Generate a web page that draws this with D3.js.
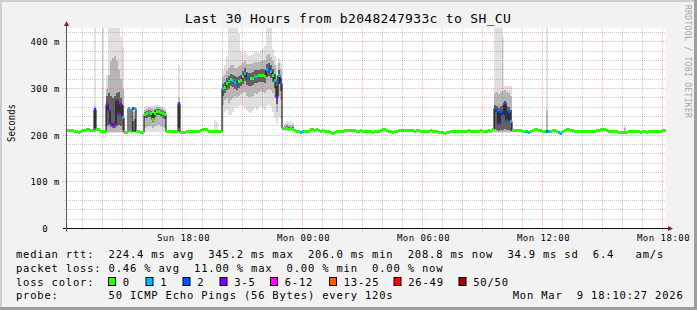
<!DOCTYPE html>
<html>
<head>
<meta charset="utf-8">
<script src="https://cdn.jsdelivr.net/npm/d3@7"></script>
<style>
html, body { margin: 0; padding: 0; background: #f2f2f2; }
svg { display: block; }
text { font-family: "DejaVu Sans Mono", monospace; fill: #000; }
</style>
</head>
<body>
<script>
const w = 697;
const h = 310;

// * DATA
const title = "Last 30 Hours from b2048247933c to SH_CU";
const yTitle = "Seconds";
const watermark = "RRDTOOL / TOBI OETIKER";
const start = new Date(2026, 2, 8, 12, 10, 27);
const end = new Date(2026, 2, 9, 18, 10, 27);
const stepMin = 6; // one value every 6 minutes

// median rtt in ms, one per step
const median = [
	210, 210, 210, 211, 209, 207, 206, 208, 210, 211, 212, 212, 211, 210,
	255,
	212, 212, 208, 207, 207,
	265, 252, 226, 222, 224, 275, 247, 265, 239,
	206, 206, 257, 207, 257, 257, 207, 207, 206, 205,
	244, 246, 248, 247, 234, 247, 250, 250, 249, 246, 244,
	208, 208, 207, 208, 209, 208,
	268,
	205, 205, 206, 207, 208, 209, 209, 208, 209, 209, 210, 212, 212, 212, 208, 207, 207, 207, 207, 208, 208,
	300, 302, 310, 315, 320, 318, 314, 312, 316, 318, 326, 332, 322, 321, 321,
	322, 327, 327, 328, 328, 328, 326, 340, 343, 337, 328, 318, 282, 328, 310,
	214, 214, 214, 213, 214, 212, 210, 209, 208, 206, 207,
	207, 207, 209, 212, 212, 211, 212, 210, 209, 210,
	209, 209, 207, 205, 203, 206, 207, 207, 207, 208,
	210, 211, 210, 210, 211, 210, 209, 209, 210, 209,
	209, 208, 207, 207, 206, 207, 207, 209, 211, 212,
	212, 211, 209, 207, 206, 207, 208, 210, 211, 210,
	211, 210, 211, 210, 210, 209, 210, 210, 208, 209,
	208, 209, 209, 210, 209, 208, 207, 206, 205, 205,
	204, 205, 206, 207, 208, 209, 208, 209, 209, 208,
	209, 209, 210, 209, 209, 208, 209, 209, 210, 209,
	208, 209, 210, 209, 212,
	258, 250, 225, 251, 243, 270, 232, 250, 230,
	210, 211, 210, 211, 210, 208, 208, 207, 205, 207,
	210, 212, 212, 211, 210, 209, 208, 208, 208, 209,
	210, 210, 208, 205, 204, 208, 211, 212, 212, 211,
	210, 209, 208, 207, 207, 207, 208, 207, 207, 207,
	208, 209, 210, 211, 212, 212, 212, 211, 209, 208,
	207, 207, 208, 206, 205, 205, 206, 206, 207, 207,
	207, 207, 207, 207, 206, 207, 207, 206, 207, 208,
	208, 208, 209, 208, 209, 210, 210,
];

// steps with lost pings (out of 50); all other steps lost none
const lossAt = [
	14, 20, 21, 22, 23, 24, 25, 26, 27, 28, 31, 33, 34, 41, 56,
	78, 81, 83, 84, 85, 89, 90, 91, 94, 95, 100, 101, 102, 104, 105, 106, 107,
	117, 118, 214, 215, 216, 217, 218, 219, 220, 221, 222,
	230, 231, 240, 241, 246, 247,
];
const lossPings = [
	4, 4, 4, 4, 4, 4, 4, 4, 4, 1, 1, 2, 1, 1, 2,
	1, 1, 1, 1, 2, 1, 2, 2, 1, 1, 1, 2, 1, 1, 4, 1, 2,
	1, 1, 2, 2, 4, 2, 2, 2, 2, 2, 1,
	1, 1, 2, 1, 1, 1,
];

// smoke: spread of the 50 pings at the steps where it is visible
const smokeAt = [
	14, 18, 20, 21, 22, 23, 24, 25, 26, 27, 28, 33, 34,
	39, 40, 41, 42, 43, 44, 45, 46, 47, 48, 49, 56, 74, 75,
	78, 79, 80, 81, 82, 83, 84, 85, 86, 87, 88, 89, 90, 91, 92,
	93, 94, 95, 96, 97, 98, 99, 100, 101, 102, 103, 104, 105, 106, 107,
	109, 110, 111, 112, 113,
	214, 215, 216, 217, 218, 219, 220, 221, 222, 240, 279,
];
const smokeMin = [
	205, 206, 205, 205, 205, 205, 205, 205, 205, 205, 205, 206, 206,
	206, 206, 206, 206, 206, 206, 206, 206, 206, 206, 206, 205, 207, 207,
	208, 250, 255, 243, 243, 250, 260, 258, 262, 265, 262, 258, 255, 250, 248,
	252, 258, 255, 260, 262, 258, 255, 262, 265, 260, 250, 238, 225, 240, 235,
	210, 210, 210, 210, 210,
	205, 205, 205, 205, 205, 205, 205, 205, 205, 207, 207,
];
const smokeP10 = [
	207, 207, 208, 208, 207, 207, 207, 208, 208, 208, 207, 206, 206,
	215, 218, 220, 220, 215, 220, 222, 222, 220, 218, 215, 207, 207, 207,
	265, 275, 280, 270, 275, 280, 285, 282, 285, 288, 290, 292, 285, 283, 282,
	285, 290, 288, 292, 294, 292, 290, 298, 300, 296, 290, 280, 250, 285, 275,
	211, 211, 211, 211, 211,
	207, 207, 207, 207, 207, 207, 207, 207, 207, 207, 207,
];
const smokeP25 = [
	215, 207, 220, 222, 218, 215, 215, 220, 222, 220, 212, 207, 207,
	236, 238, 240, 239, 228, 240, 243, 243, 242, 238, 234, 215, 207, 207,
	285, 290, 298, 300, 305, 304, 300, 298, 302, 305, 310, 316, 308, 306, 306,
	308, 312, 312, 314, 314, 314, 312, 324, 328, 322, 314, 302, 268, 310, 295,
	213, 213, 213, 213, 212,
	214, 212, 210, 212, 212, 214, 212, 212, 210, 208, 208,
];
const smokeP75 = [
	255, 208, 285, 290, 285, 280, 285, 290, 292, 280, 265, 230, 235,
	250, 252, 254, 253, 248, 254, 256, 256, 255, 252, 250, 268, 208, 208,
	310, 315, 322, 328, 332, 330, 326, 325, 328, 330, 338, 344, 335, 334, 334,
	335, 340, 340, 340, 341, 341, 340, 352, 356, 350, 342, 332, 305, 340, 322,
	218, 219, 218, 218, 217,
	265, 262, 258, 262, 265, 268, 262, 260, 255, 210, 210,
];
const smokeP90 = [
	262, 212, 300, 330, 360, 365, 370, 360, 340, 320, 300, 250, 252,
	255, 257, 259, 258, 256, 259, 260, 260, 259, 257, 255, 280, 212, 212,
	325, 330, 338, 345, 350, 350, 345, 345, 348, 350, 355, 360, 352, 352, 352,
	354, 358, 358, 358, 360, 362, 362, 372, 375, 368, 360, 350, 330, 355, 340,
	223, 224, 223, 222, 221,
	290, 292, 288, 292, 295, 296, 292, 290, 285, 255, 215,
];
const smokeMax = [
	430, 430, 330, 430, 430, 430, 430, 430, 430, 410, 390, 257, 257,
	260, 262, 263, 262, 262, 264, 265, 264, 263, 261, 259, 350, 232, 228,
	340, 350, 370, 430, 430, 430, 430, 430, 420, 380, 375, 380, 372, 370, 372,
	375, 380, 378, 378, 382, 385, 392, 430, 430, 430, 385, 370, 350, 365, 355,
	229, 230, 229, 228, 226,
	430, 430, 430, 430, 410, 306, 305, 305, 305, 430, 219,
];

const yTicks = [0, 100, 200, 300, 400];
const yTickLabels = ["0  ", "100 m", "200 m", "300 m", "400 m"];

const lossLabels = ["0", "1", "2", "3-5", "6-12", "13-25", "26-49", "50/50"];
const lossColors = ["#26ff00", "#00b8ff", "#0059ff", "#7e00ff", "#ff00ff", "#ff5e00", "#ff0000", "#a10000"];
const lossBreaks = [1, 2, 3, 6, 13, 26, 50];

const legendMedian = "median rtt:  224.4 ms avg  345.2 ms max  206.0 ms min  208.8 ms now  34.9 ms sd  6.4   am/s";
const legendLoss = "packet loss: 0.46 % avg  11.00 % max  0.00 % min  0.00 % now";
const legendColorTitle = "loss color:";
const legendProbe = "probe:       50 ICMP Echo Pings (56 Bytes) every 120s";
const stamp = "Mon Mar  9 18:10:27 2026";

// * LAYOUT
const canvasTop = 28;
const canvasBottom = 228.5;
const axisX = 66.5;
const lossBoxX = [108, 145.5, 182.5, 219.5, 270, 329, 393.5, 458.5];

// * SCALES
const xScale = d3.scaleTime().domain([start, end]).range([66, 666]);
const yScale = d3.scaleLinear().domain([0, 430]).range([canvasBottom, canvasTop]);
const lossColor = d3.scaleThreshold().domain(lossBreaks).range(lossColors);
const timeAt = (i) => d3.timeMinute.offset(start, i * stepMin);
const px = (v) => Math.floor(v) + 0.5;

const lossByStep = new Map(lossAt.map((s, k) => [s, lossPings[k]]));
const points = median.map((m, i) => ({
	i,
	m,
	t0: timeAt(i),
	t1: timeAt(i + 1),
	lost: lossByStep.get(i) || 0,
}));
const smoke = smokeAt.map((s, k) => ({
	t0: timeAt(s),
	t1: timeAt(s + 1),
	bands: [
		[smokeMin[k], smokeMax[k], "#e0e0e0"],
		[smokeP10[k], smokeP90[k], "#b6b6b6"],
		[smokeP25[k], smokeP75[k], "#606060"],
	],
}));

// * SVG BASE SETUP
const svg = d3.select("body").append("svg").attr("width", w).attr("height", h);
svg.append("rect").attr("width", w).attr("height", h).attr("fill", "#f2f2f2");
svg.append("rect").attr("width", w).attr("height", 2).attr("fill", "#cfcfcf");
svg.append("rect").attr("width", 2).attr("height", h).attr("fill", "#cfcfcf");
svg.append("rect").attr("x", w - 3).attr("width", 3).attr("height", h).attr("fill", "#9e9e9e");
svg.append("rect").attr("y", h - 3).attr("width", w).attr("height", 3).attr("fill", "#9e9e9e");

svg.append("rect")
	.attr("x", 67)
	.attr("y", canvasTop)
	.attr("width", 599)
	.attr("height", canvasBottom - canvasTop)
	.attr("fill", "#ffffff");

svg.append("clipPath")
	.attr("id", "canvas")
	.append("rect")
	.attr("x", 67)
	.attr("y", canvasTop)
	.attr("width", 599)
	.attr("height", canvasBottom - canvasTop);

// * SMOKE
const smokeG = svg.append("g").attr("clip-path", "url(#canvas)").attr("shape-rendering", "crispEdges");
smoke.forEach((s) => {
	s.bands.forEach(([lo, hi, col]) => {
		if (hi - lo < 1) return;
		smokeG.append("rect")
			.attr("x", xScale(s.t0))
			.attr("width", xScale(s.t1) - xScale(s.t0))
			.attr("y", yScale(hi))
			.attr("height", yScale(lo) - yScale(hi))
			.attr("fill", col);
	});
});

// * GRID
const gridG = svg.append("g").attr("fill", "none").attr("stroke-dasharray", "1,1");
const minorCol = "rgba(120,120,120,0.4)";
const majorCol = "rgba(240,90,90,0.45)";
const hours = d3.timeHour.every(1).range(start, end);
hours.forEach((t) => {
	const major = t.getHours() % 3 === 0;
	const gx = px(xScale(t));
	gridG.append("line")
		.attr("x1", gx).attr("x2", gx)
		.attr("y1", canvasTop).attr("y2", canvasBottom)
		.attr("stroke", major ? majorCol : minorCol);
	svg.append("line")
		.attr("x1", gx).attr("x2", gx)
		.attr("y1", canvasBottom + 1).attr("y2", canvasBottom + (major ? 3 : 2))
		.attr("stroke", major ? majorCol : minorCol);
});
d3.range(20, 430, 20).forEach((v) => {
	const major = v % 100 === 0;
	const gy = px(yScale(v));
	gridG.append("line")
		.attr("x1", major ? 63 : 64).attr("x2", 666)
		.attr("y1", gy).attr("y2", gy)
		.attr("stroke", major ? majorCol : minorCol);
});

// * MEDIAN
const dataG = svg.append("g").attr("clip-path", "url(#canvas)");
const stepLine = d3.line()
	.curve(d3.curveStepAfter)
	.x((d) => xScale(d.t))
	.y((d) => px(yScale(d.m)));
const stepPts = points.map((d) => ({ t: d.t0, m: d.m }));
stepPts.push({ t: end, m: median[median.length - 1] });
dataG.append("path")
	.attr("d", stepLine(stepPts))
	.attr("fill", "none")
	.attr("stroke", "#000")
	.attr("stroke-width", 1);
dataG.selectAll("rect.med")
	.data(points)
	.enter()
	.append("rect")
	.attr("class", "med")
	.attr("shape-rendering", "crispEdges")
	.attr("x", (d) => xScale(d.t0))
	.attr("width", (d) => xScale(d.t1) - xScale(d.t0))
	.attr("y", (d) => Math.floor(yScale(d.m)) - 1)
	.attr("height", 3)
	.attr("fill", (d) => lossColor(d.lost));

// * AXES
svg.append("line")
	.attr("x1", 63).attr("x2", 668)
	.attr("y1", canvasBottom).attr("y2", canvasBottom)
	.attr("stroke", "#111");
svg.append("line")
	.attr("x1", axisX).attr("x2", axisX)
	.attr("y1", canvasBottom + 3).attr("y2", 25)
	.attr("stroke", "#555");
svg.append("path")
	.attr("d", "M668,226L668,231L673,228.5Z")
	.attr("fill", "#8f1d1d");
svg.append("path")
	.attr("d", `M${axisX - 2.5},26L${axisX + 2.5},26L${axisX},21Z`)
	.attr("fill", "#8f1d1d");

svg.selectAll("text.ylab")
	.data(yTicks)
	.enter()
	.append("text")
	.attr("class", "ylab")
	.attr("x", 60)
	.attr("y", (d) => yScale(d) + 3.5)
	.attr("text-anchor", "end")
	.style("white-space", "pre")
	.style("font-size", "9px")
	.style("letter-spacing", "0.5px")
	.text((d, i) => yTickLabels[i]);

const timeLabel = d3.timeFormat("%a %H:%M");
svg.selectAll("text.xlab")
	.data(d3.timeHour.every(6).range(start, d3.timeMinute.offset(end, 1)))
	.enter()
	.append("text")
	.attr("class", "xlab")
	.attr("x", (d) => xScale(d) + 1)
	.attr("y", 240.7)
	.attr("text-anchor", "middle")
	.style("font-size", "9px")
	.style("letter-spacing", "0.5px")
	.text((d) => timeLabel(d));

// * TITLES
svg.append("text")
	.attr("x", 348)
	.attr("y", 23.3)
	.attr("text-anchor", "middle")
	.style("font-size", "13px")
	.style("letter-spacing", "0.33px")
	.text(title);

svg.append("text")
	.attr("transform", "translate(15,123) rotate(-90)")
	.attr("text-anchor", "middle")
	.attr("textLength", 38)
	.attr("lengthAdjust", "spacingAndGlyphs")
	.style("font-size", "11px")
	.text(yTitle);

svg.append("text")
	.attr("transform", "translate(685,5) rotate(90)")
	.style("font-size", "8px")
	.style("letter-spacing", "0.33px")
	.style("fill", "#a6a6a6")
	.text(watermark);

// * LEGEND
const legendText = (str, lx, ly) =>
	svg.append("text")
		.attr("x", lx)
		.attr("y", ly)
		.style("white-space", "pre")
		.style("font-size", "10.5px")
		.style("letter-spacing", "0.8px")
		.text(str);
legendText(legendMedian, 16, 258);
legendText(legendLoss, 16, 271.8);
legendText(legendColorTitle, 16, 285.6);
legendText(legendProbe, 16, 299.4);
legendText(stamp, 512.7, 299.4);

lossLabels.forEach((lab, i) => {
	svg.append("rect")
		.attr("x", lossBoxX[i] + 0.5)
		.attr("y", 277.5)
		.attr("width", 7)
		.attr("height", 8)
		.attr("fill", lossColors[i])
		.attr("stroke", "#000");
	legendText(lab, lossBoxX[i] + 14.7, 285.6);
});
</script>
</body>
</html>
